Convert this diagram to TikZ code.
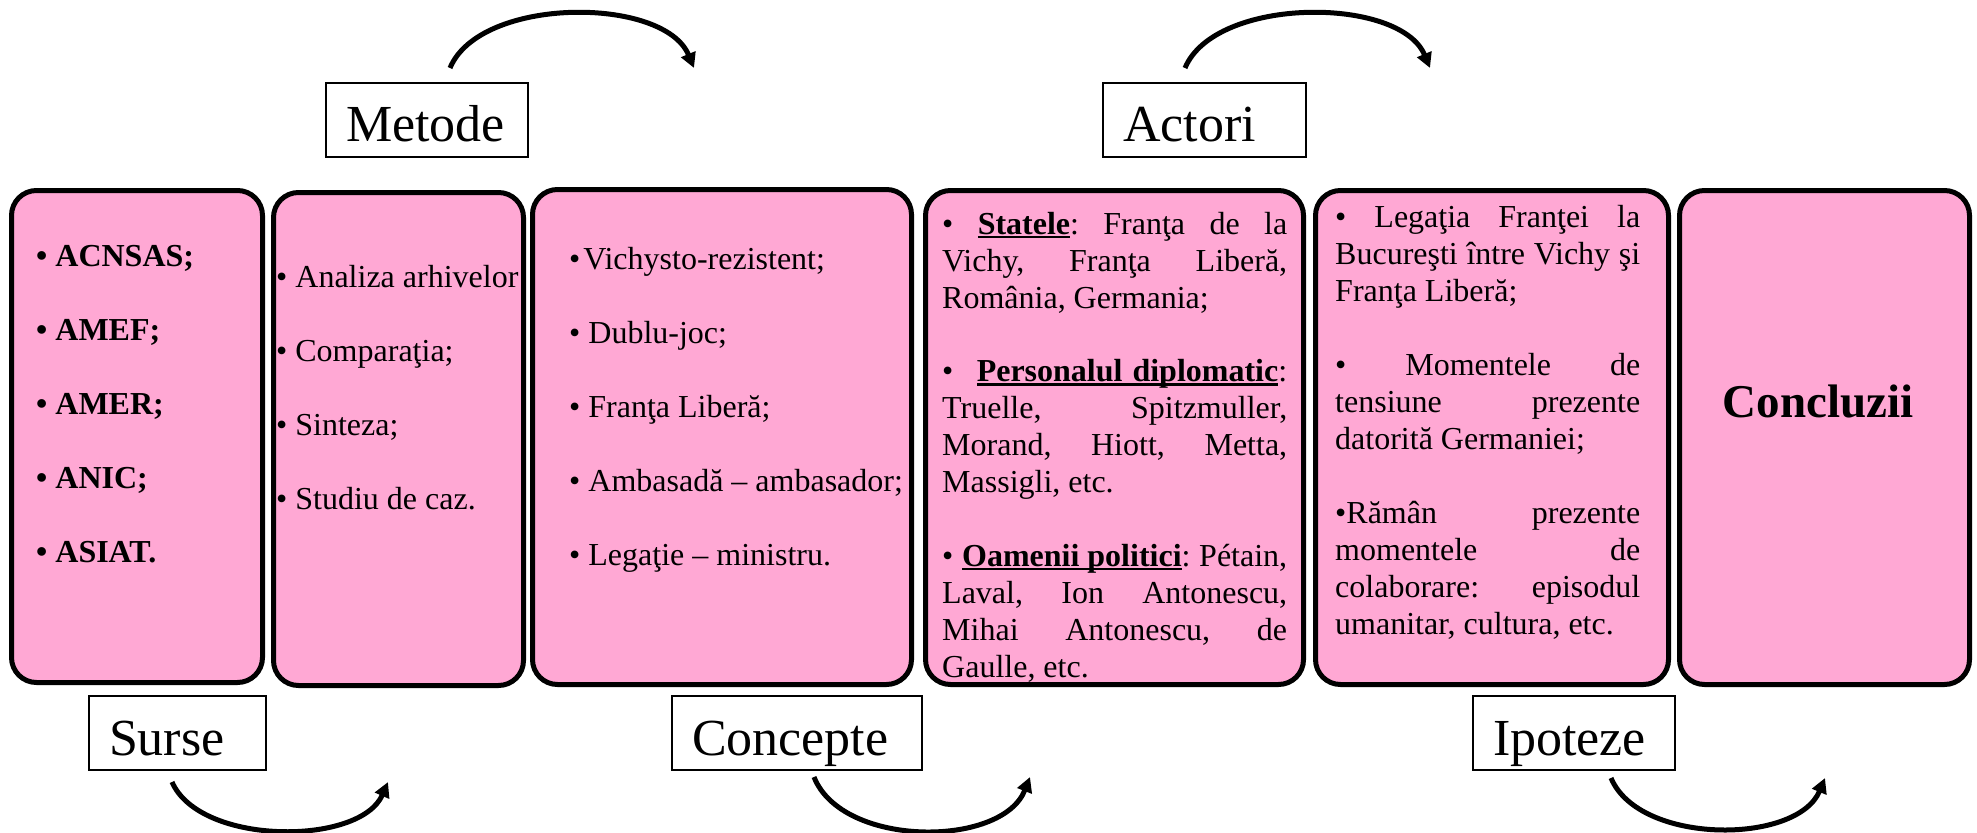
\documentclass[tikz,border=0pt]{standalone}
\usepackage{fontspec}
\setmainfont{Liberation Serif}
\usetikzlibrary{arrows.meta}
\definecolor{boxpink}{RGB}{255,168,212}
\newsavebox\ulbox
\newcommand\myul[1]{\sbox\ulbox{#1}\rlap{\rule[-4pt]{\wd\ulbox}{2.5pt}}\usebox\ulbox}
\newcommand\jl[2]{\makebox[#1][s]{#2}}
\frenchspacing
\begin{document}
\begin{tikzpicture}[x=1pt,y=-1pt,
  pinkbox/.style={draw=black, line width=5pt, fill=boxpink, rounded corners=25pt, inner sep=0pt},
  lbl/.style={draw=black, line width=1.8pt, fill=white, inner xsep=20pt, inner ysep=0pt, align=left, minimum height=74pt, text height=44pt, text depth=0pt, font=\fontsize{52}{60}\selectfont},
  body/.style={inner sep=0pt, align=left, anchor=north west, font=\fontsize{32}{37}\selectfont},
  flow/.style={line width=5pt, -{Triangle[length=15pt,width=15pt]}}
]
\useasboundingbox (0,0) rectangle (1977,832);

% main boxes
\node[pinkbox, minimum width=251pt, minimum height=492pt] (b1) at (137,436.5) {};
\node[pinkbox, minimum width=250pt, minimum height=493pt] (b2) at (398.5,439) {};
\node[pinkbox, minimum width=379pt, minimum height=495pt] (b3) at (722,437) {};
\node[pinkbox, minimum width=378pt, minimum height=494pt] (b4) at (1114.5,437.5) {};
\node[pinkbox, minimum width=353pt, minimum height=494pt] (b5) at (1492,437.5) {};
\node[pinkbox, minimum width=290pt, minimum height=494pt] (b6) at (1824.5,437.5) {};

% box texts
\node[body, font=\fontsize{32}{74}\selectfont\bfseries] (t1) at (36,245)
  {• ACNSAS;\\ • AMEF;\\ • AMER;\\ • ANIC;\\ • ASIAT.};
\node[body, font=\fontsize{32}{74}\selectfont] (t2) at (276,265)
  {• Analiza arhivelor\\ • Comparaţia;\\ • Sinteza;\\ • Studiu de caz.};
\node[body, font=\fontsize{32}{74}\selectfont] (t3) at (569,247)
  {•\kern3pt Vichysto-rezistent;\\ • Dublu-joc;\\ • Franţa Liberă;\\ • Ambasadă – ambasador;\\ • Legaţie – ministru.};
\node[body] (t4) at (942,212)
  {\jl{345pt}{• \myul{\textbf{Statele}}: Franţa de la}\\
   \jl{345pt}{Vichy, Franţa Liberă,}\\
   România, Germania;\\[36.5pt]
   \jl{345pt}{• \myul{\textbf{Personalul}\hspace{10pt}\textbf{diplomatic}}:}\\
   \jl{345pt}{Truelle, Spitzmuller,}\\
   \jl{345pt}{Morand, Hiott, Metta,}\\
   Massigli, etc.\\[36.5pt]
   \jl{345pt}{• \myul{\textbf{Oamenii politici}}: Pétain,}\\
   \jl{345pt}{Laval, Ion Antonescu,}\\
   \jl{345pt}{Mihai Antonescu, de}\\
   Gaulle, etc.};
\node[body] (t5) at (1335,205)
  {\jl{305pt}{• Legaţia Franţei la}\\
   \jl{305pt}{Bucureşti între Vichy şi}\\
   Franţa Liberă;\\[37pt]
   \jl{305pt}{• Momentele de}\\
   \jl{305pt}{tensiune prezente}\\
   datorită Germaniei;\\[37pt]
   \jl{305pt}{•Rămân prezente}\\
   \jl{305pt}{momentele de}\\
   \jl{305pt}{colaborare: episodul}\\
   umanitar, cultura, etc.};
\node[inner sep=0pt, font=\fontsize{47}{50}\selectfont\bfseries] (concl) at (1818,401) {Concluzii};

% labels
\node[lbl, text width=162pt] (metode) at (427,120) {Metode};
\node[lbl, text width=163pt] (actori) at (1204.5,120) {Actori};
\node[lbl, text width=137pt] (surse) at (177.5,733) {Surse};
\node[lbl, text width=210pt] (concepte) at (797,733) {Concepte};
\node[lbl, text width=162pt] (ipoteze) at (1574,733) {Ipoteze};

% curved arrows
\coordinate (ma) at (450,68);  \coordinate (mb) at (694,68);
\coordinate (aa) at (1185,68); \coordinate (ab) at (1430,68);
\coordinate (sa) at (172,782); \coordinate (sb) at (388,782);
\coordinate (ca) at (814,777); \coordinate (cb) at (1030,777);
\coordinate (ia) at (1611,778); \coordinate (ib) at (1825,778);
\draw[flow] (ma) .. controls (480,-4) and (664,-4) .. (mb);
\draw[flow] (aa) .. controls (1215,-4) and (1400,-4) .. (ab);
\draw[flow] (sa) .. controls (200,846) and (360,846) .. (sb);
\draw[flow] (ca) .. controls (842,848) and (1002,848) .. (cb);
\draw[flow] (ia) .. controls (1639,845) and (1797,845) .. (ib);
\end{tikzpicture}
\end{document}
